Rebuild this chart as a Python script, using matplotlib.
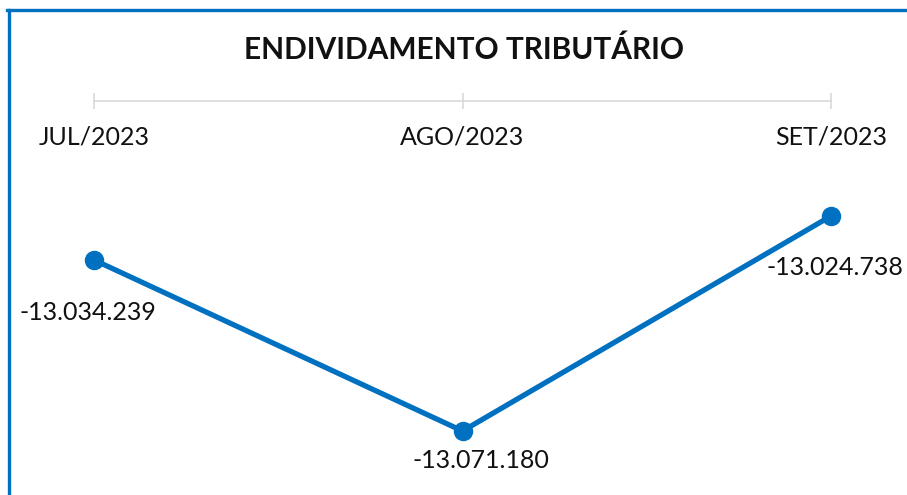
import matplotlib.pyplot as plt
from matplotlib.lines import Line2D
from matplotlib.ticker import FixedLocator

months = ["JUL/2023", "AGO/2023", "SET/2023"]
values = [-13034239, -13071180, -13024738]
value_labels = ["-13.034.239", "-13.071.180", "-13.024.738"]

label_offsets = [(-6, -53), (18, -30), (4, -52)]  # pixel offsets of data labels

W, H = 907, 495
fig = plt.figure(figsize=(W / 100, H / 100), dpi=100)
fig.patch.set_facecolor("white")

blue = "#0070C0"
font = "Lato"

def fx(px):
    return px / W

def fy(py):
    return 1 - py / H

# border (left and top)
fig.add_artist(Line2D([fx(8.5), fx(8.5)], [fy(10), 0], color=blue, lw=2.4, transform=fig.transFigure))
fig.add_artist(Line2D([fx(7), 1], [fy(10), fy(10)], color=blue, lw=2.4, transform=fig.transFigure))

# title
fig.text(fx(464), fy(50), "ENDIVIDAMENTO TRIBUTÁRIO", ha="center", va="center",
         fontsize=21.5, fontweight="bold", family=font, color="#111111")

# main axes
x0, x1 = 94, 831
ytop, ybot = 216, 431
ax = fig.add_axes([fx(x0), fy(ybot), fx(x1 - x0), (ybot - ytop) / H])
xs = list(range(len(months)))
ax.plot(xs, values, color=blue, lw=3.8, marker="o", markersize=13, clip_on=False, zorder=3)
ax.set_xlim(0, len(months) - 1)
ax.set_ylim(min(values), max(values))
ax.axis("off")
for x, v, lab, (dx, dy) in zip(xs, values, value_labels, label_offsets):
    ax.annotate(lab, (x, v), xytext=(dx * 0.72, dy * 0.72), textcoords="offset points",
                ha="center", va="center", fontsize=18, fontweight="normal",
                family=font, color="#111111")

# top category axis
ax2 = fig.add_axes([fx(x0), fy(101), fx(x1 - x0), 0.001])
ax2.set_xlim(0, len(months) - 1)
ax2.xaxis.set_major_locator(FixedLocator(xs))
ax2.set_xticklabels(months, fontsize=18, fontweight="normal", family=font, color="#111111")
ax2.set_yticks([])
for s in ["top", "left", "right"]:
    ax2.spines[s].set_visible(False)
ax2.spines["bottom"].set_color("#D9D9D9")
ax2.spines["bottom"].set_linewidth(1.2)
ax2.tick_params(axis="x", direction="inout", length=11, width=1.2, color="#D9D9D9", pad=12)
ax2.patch.set_visible(False)

fig.savefig("out.png", dpi=100, facecolor="white")
